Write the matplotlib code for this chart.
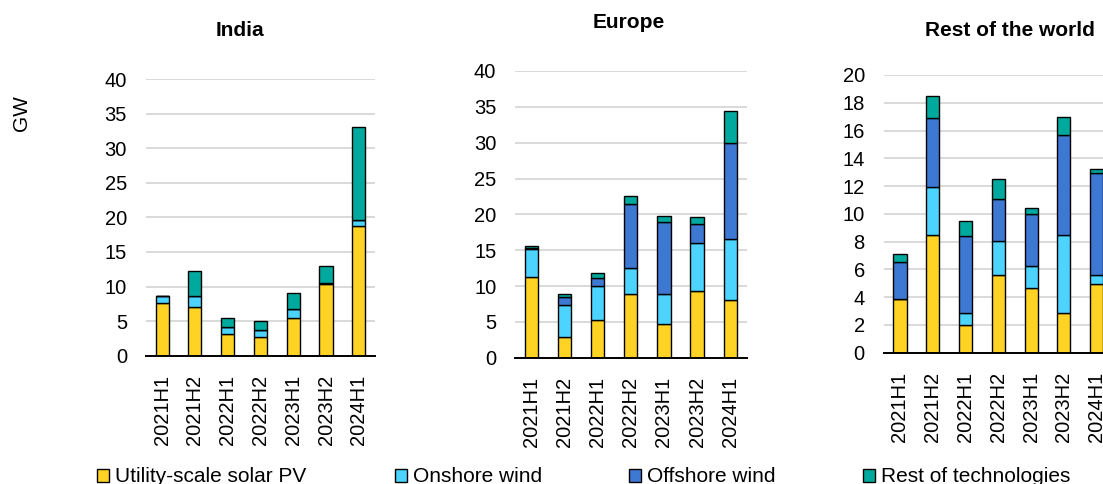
#%% importing modules
import numpy as np
import matplotlib.pyplot as plt
from matplotlib.patches import Patch

#%% data
periods = ['2021H1', '2021H2', '2022H1', '2022H2', '2023H1', '2023H2', '2024H1']
series = ['Utility-scale solar PV', 'Onshore wind', 'Offshore wind', 'Rest of technologies']
colors = ['#FFD324', '#4CD4FF', '#3D78D3', '#00A99D']

india_solar    = [7.6, 7.1, 3.1, 2.65, 5.5, 10.4, 18.8]
india_onshore  = [1.1, 1.5, 1.1, 1.05, 1.2, 0.1, 0.8]
india_offshore = [0, 0, 0, 0, 0, 0, 0]
india_rest     = [0, 3.7, 1.3, 1.3, 2.3, 2.5, 13.5]

europe_solar    = [11.3, 2.9, 5.3, 8.9, 4.7, 9.3, 8.1]
europe_onshore  = [3.85, 4.5, 4.7, 3.6, 4.2, 6.7, 8.5]
europe_offshore = [0.1, 1.0, 1.1, 9.0, 10.0, 2.7, 13.3]
europe_rest     = [0.35, 0.5, 0.7, 1.0, 0.9, 1.0, 4.5]

row_solar    = [3.84, 8.45, 1.97, 5.6, 4.66, 2.88, 4.92]
row_onshore  = [0, 3.45, 0.86, 2.47, 1.61, 5.57, 0.68]
row_offshore = [2.66, 5.0, 5.6, 2.97, 3.73, 7.25, 7.34]
row_rest     = [0.6, 1.6, 1.07, 1.46, 0.44, 1.3, 0.31]

plt.rcParams['font.family'] = ['Liberation Sans', 'DejaVu Sans']
plt.rcParams['font.size'] = 14.5

W, H = 1103, 484
fig = plt.figure(figsize=(W / 100, H / 100), dpi=100)

def px_axes(left, right, bottom, top):
    # pixel box (from top-left) -> figure fraction
    return fig.add_axes([left / W, 1 - bottom / H, (right - left) / W, (bottom - top) / H])

panels = [
    ('India', (145.7, 375.2, 355.7, 79.0), 40, 5, (240, 31),
     [india_solar, india_onshore, india_offshore, india_rest]),
    ('Europe', (515.0, 746.7, 357.7, 71.0), 40, 5, (629, 23),
     [europe_solar, europe_onshore, europe_offshore, europe_rest]),
    ('Rest of the world', (883.6, 1113.1, 352.7, 75.0), 20, 2, (1010, 30),
     [row_solar, row_onshore, row_offshore, row_rest]),
]

x = np.arange(len(periods))
for title, box, ymax, step, tpos, vals in panels:
    ax = px_axes(*box)
    bottom = np.zeros(len(periods))
    for v, c in zip(vals, colors):
        v = np.array(v, dtype=float)
        ax.bar(x, v, 0.4, bottom=bottom, color=c, edgecolor='black', linewidth=1.0, zorder=3)
        bottom += v
    ax.set_xlim(-0.5, len(periods) - 0.5)
    ax.set_ylim(0, ymax)
    ax.set_yticks(np.arange(0, ymax + step, step))
    ax.set_xticks(x)
    ax.set_xticklabels(periods, rotation=90)
    ax.tick_params(axis='both', length=0, pad=13.5, labelsize=14.5, colors='black')
    ax.yaxis.grid(True, color='#D9D9D9', linewidth=1.4, zorder=0)
    for s in ['left', 'right', 'top']:
        ax.spines[s].set_visible(False)
    ax.spines['bottom'].set_linewidth(1.4)
    ax.spines['bottom'].set_zorder(4)
    ax.set_facecolor('none')
    fig.text(tpos[0] / W, 1 - tpos[1] / H, title, ha='center', va='center',
             fontsize=15, fontweight='bold')

fig.text(22 / W, 1 - 113 / H, 'GW', rotation=90, ha='center', va='center', fontsize=15)

# legend entries placed one by one (uneven spacing like the source)
leg_x = [96.7, 395.0, 628.7, 862.7]
for name, c, lx in zip(series, colors, leg_x):
    h = Patch(facecolor=c, edgecolor='black', linewidth=1.0)
    fig.legend(handles=[h], labels=[name], loc='center left',
               bbox_to_anchor=(lx / W, 1 - 477 / H), frameon=False, fontsize=15,
               handlelength=0.58, handleheight=0.58, handletextpad=0.28,
               borderpad=0, borderaxespad=0)

fig.savefig('out.png', dpi=100)
